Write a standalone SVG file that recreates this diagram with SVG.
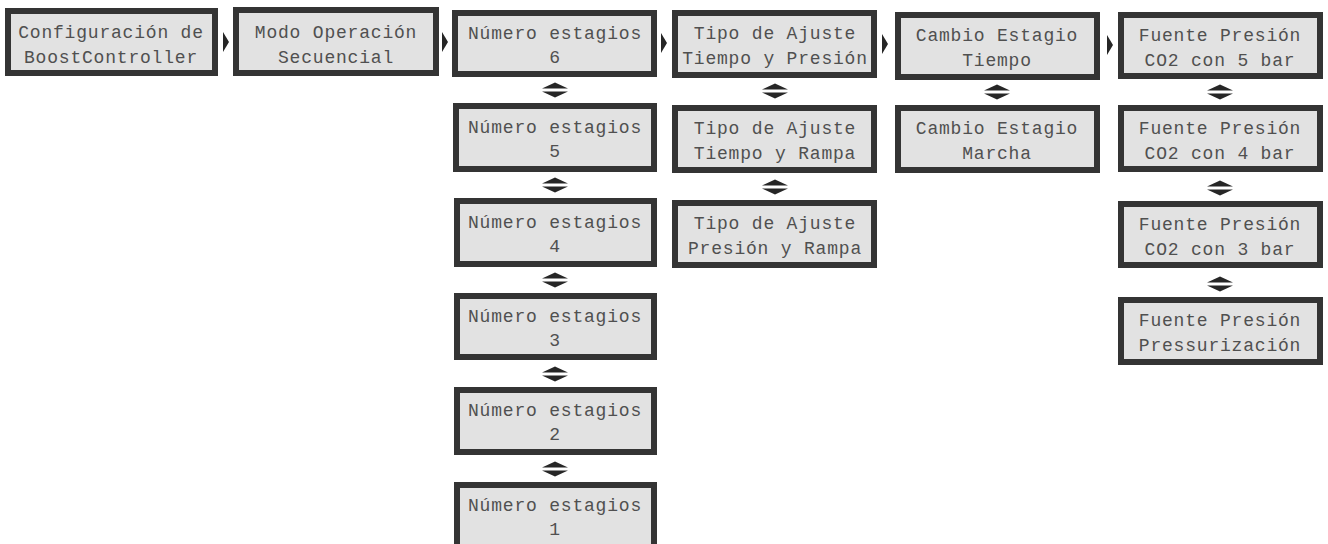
<svg xmlns="http://www.w3.org/2000/svg" width="1328" height="544" viewBox="0 0 1328 544">
<style>
.box{fill:#e2e2e2;stroke:#343434;stroke-width:6}
.t{font-family:"Liberation Mono","DejaVu Sans Mono",monospace;font-size:18px;letter-spacing:0.8px;fill:#505050;text-anchor:middle}
.arr{fill:#262626}
</style>
<defs>
<g id="ud"><polygon points="-13,-1.5 13,-1.5 0,-7.5"/><polygon points="-13,1.5 13,1.5 0,7.5"/></g>
<polygon id="rt" points="0,-10 6,0 0,10"/>
</defs>
<g id="connectors" class="arr">
<use href="#rt" x="223" y="42"/>
<use href="#rt" x="442" y="42"/>
<use href="#rt" x="661" y="43"/>
<use href="#rt" x="882" y="44"/>
<use href="#rt" x="1107" y="45"/>
<use href="#ud" x="555" y="90"/>
<use href="#ud" x="555" y="185"/>
<use href="#ud" x="555" y="280"/>
<use href="#ud" x="555" y="374"/>
<use href="#ud" x="555" y="469"/>
<use href="#ud" x="775" y="91"/>
<use href="#ud" x="775" y="187"/>
<use href="#ud" x="997" y="92"/>
<use href="#ud" x="1220" y="92"/>
<use href="#ud" x="1220" y="188"/>
<use href="#ud" x="1220" y="284"/>
</g>
<g id="n-config"><rect class="box" x="8" y="11" width="207" height="62"/><text class="t" x="111" y="38">Configuración de</text><text class="t" x="111" y="63">BoostController</text></g>
<g id="n-modo"><rect class="box" x="236" y="10" width="200" height="63"/><text class="t" x="336" y="38">Modo Operación</text><text class="t" x="336" y="63">Secuencial</text></g>
<g id="n-num6"><rect class="box" x="455" y="13" width="199" height="61"/><text class="t" x="555" y="39">Número estagios</text><text class="t" x="555" y="63">6</text></g>
<g id="n-num5"><rect class="box" x="456" y="106" width="198" height="63"/><text class="t" x="555" y="133">Número estagios</text><text class="t" x="555" y="157">5</text></g>
<g id="n-num4"><rect class="box" x="457" y="201" width="197" height="63"/><text class="t" x="555" y="228">Número estagios</text><text class="t" x="555" y="252">4</text></g>
<g id="n-num3"><rect class="box" x="457" y="296" width="197" height="61"/><text class="t" x="555" y="322">Número estagios</text><text class="t" x="555" y="346">3</text></g>
<g id="n-num2"><rect class="box" x="457" y="390" width="197" height="62"/><text class="t" x="555" y="416">Número estagios</text><text class="t" x="555" y="440">2</text></g>
<g id="n-num1"><rect class="box" x="457" y="485" width="197" height="64"/><text class="t" x="555" y="511">Número estagios</text><text class="t" x="555" y="535">1</text></g>
<g id="n-tipo1"><rect class="box" x="675" y="13" width="199" height="62"/><text class="t" x="775" y="39">Tipo de Ajuste</text><text class="t" x="775" y="64">Tiempo y Presión</text></g>
<g id="n-tipo2"><rect class="box" x="675" y="108" width="199" height="62"/><text class="t" x="775" y="134">Tipo de Ajuste</text><text class="t" x="775" y="159">Tiempo y Rampa</text></g>
<g id="n-tipo3"><rect class="box" x="675" y="203" width="199" height="62"/><text class="t" x="775" y="229">Tipo de Ajuste</text><text class="t" x="775" y="254">Presión y Rampa</text></g>
<g id="n-cambio1"><rect class="box" x="898" y="15" width="199" height="62"/><text class="t" x="997" y="41">Cambio Estagio</text><text class="t" x="997" y="66">Tiempo</text></g>
<g id="n-cambio2"><rect class="box" x="898" y="108" width="199" height="62"/><text class="t" x="997" y="134">Cambio Estagio</text><text class="t" x="997" y="159">Marcha</text></g>
<g id="n-fuente5"><rect class="box" x="1121" y="15" width="199" height="61"/><text class="t" x="1220" y="41">Fuente Presión</text><text class="t" x="1220" y="66">CO2 con 5 bar</text></g>
<g id="n-fuente4"><rect class="box" x="1121" y="108" width="199" height="61"/><text class="t" x="1220" y="134">Fuente Presión</text><text class="t" x="1220" y="159">CO2 con 4 bar</text></g>
<g id="n-fuente3"><rect class="box" x="1121" y="204" width="199" height="61"/><text class="t" x="1220" y="230">Fuente Presión</text><text class="t" x="1220" y="255">CO2 con 3 bar</text></g>
<g id="n-fuenteP"><rect class="box" x="1121" y="300" width="199" height="62"/><text class="t" x="1220" y="326">Fuente Presión</text><text class="t" x="1220" y="351">Pressurización</text></g>
</svg>
